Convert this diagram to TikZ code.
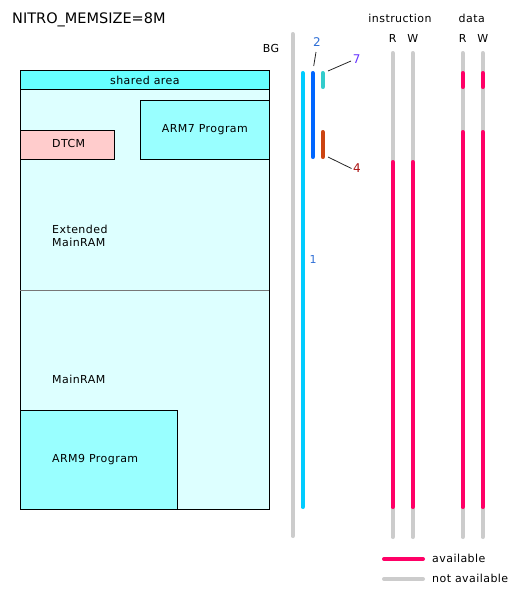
\documentclass[tikz,border=0pt]{standalone}
\usepackage{fontspec}
\setmainfont{DejaVu Sans}
\newfontfamily\spacedfont[LetterSpace=4]{DejaVu Sans}
\definecolor{mainfill}{HTML}{DDFFFF}
\definecolor{sharedfill}{HTML}{66FFFF}
\definecolor{progfill}{HTML}{99FFFF}
\definecolor{dtcmfill}{HTML}{FFCCCC}
\definecolor{na}{HTML}{CCCCCC}
\definecolor{av}{HTML}{FF0066}
\definecolor{cyanbar}{HTML}{00CCFF}
\definecolor{bluebar}{HTML}{0066FF}
\definecolor{tealbar}{HTML}{33CCCC}
\definecolor{orangebar}{HTML}{CC4411}
\definecolor{labblue}{HTML}{2F6FD6}
\definecolor{labpurple}{HTML}{6633FF}
\definecolor{labred}{HTML}{AA1111}
\definecolor{divgray}{HTML}{777777}
\begin{document}
\begin{tikzpicture}[x=1pt,y=-1pt,
  txt/.style={font=\spacedfont\fontsize{11}{13}\selectfont, inner sep=0pt},
  box/.style={draw=black, line width=0.8pt, anchor=north west, inner sep=0pt},
  bar/.style={line width=4pt, line cap=round},
  num/.style={font=\fontsize{12}{14}\selectfont, inner sep=0pt},
  lead/.style={draw=black!85, line width=0.8pt}]
\useasboundingbox (0,0) rectangle (520,600);

% title
\node[anchor=west, inner sep=0pt, font=\fontsize{14.5}{16}\selectfont] (title) at (12,20) {NITRO\_MEMSIZE=8M};
\node[txt] (bg) at (271,48) {BG};

% memory map
\node[box, fill=mainfill, minimum width=249, minimum height=439] (main) at (20,70) {};
\node[box, fill=sharedfill, minimum width=249, minimum height=19, font=\spacedfont\fontsize{11}{12}\selectfont] (shared) at (20,70) {shared area};
\node[box, fill=progfill, minimum width=129, minimum height=59, font=\spacedfont\fontsize{11}{12}\selectfont] (arm7) at (140,100) {ARM7 Program};
\node[box, fill=dtcmfill, minimum width=94, minimum height=29] (dtcm) at (20,130) {};
\node[txt, anchor=west] (dtcmt) at (52,143.5) {DTCM};
\coordinate (divL) at (20,290);
\coordinate (divR) at (269,290);
\draw[divgray, line width=1pt] (divL) -- (divR);
\node[txt, anchor=west, align=left] (ext) at (52,235.5) {Extended\\MainRAM};
\node[txt, anchor=west] (mainram) at (52,379.5) {MainRAM};
\node[box, fill=progfill, minimum width=157, minimum height=99] (arm9) at (20,410) {};
\node[txt, anchor=west] (arm9t) at (52,459.5) {ARM9 Program};

% BG bars
\coordinate (bgT) at (292.7,34); \coordinate (bgB) at (292.7,536);
\draw[bar, na] (bgT) -- (bgB);
\coordinate (b1T) at (302.7,73); \coordinate (b1B) at (302.7,507);
\draw[bar, cyanbar] (b1T) -- (b1B);
\coordinate (b2T) at (312.7,73); \coordinate (b2B) at (312.7,157);
\draw[bar, bluebar] (b2T) -- (b2B);
\coordinate (b7T) at (322.7,73); \coordinate (b7B) at (322.7,87);
\draw[bar, tealbar] (b7T) -- (b7B);
\coordinate (b4T) at (322.7,132); \coordinate (b4B) at (322.7,157);
\draw[bar, orangebar] (b4T) -- (b4B);

\node[num, labblue, font=\fontsize{11}{13}\selectfont] (l1) at (313,259) {1};
\node[num, labblue] (l2) at (317,42) {2};
\node[num, labpurple] (l7) at (356.7,59) {7};
\node[num, labred] (l4) at (357,168) {4};
\coordinate (c2a) at (316,52); \coordinate (c2b) at (313.7,66);
\draw[lead] (c2a) -- (c2b);
\coordinate (c7a) at (351,61); \coordinate (c7b) at (328,71);
\draw[lead] (c7a) -- (c7b);
\coordinate (c4a) at (328,157); \coordinate (c4b) at (351.5,168.5);
\draw[lead] (c4a) -- (c4b);

% access columns
\node[txt] (instr) at (400,18) {instruction};
\node[txt] (data) at (471.7,18) {data};
\node[txt] (iR) at (392.7,38) {R};
\node[txt] (iW) at (412.7,38) {W};
\node[txt] (dR) at (462.7,38) {R};
\node[txt] (dW) at (482.7,38) {W};

\foreach \x/\n in {392.7/iR, 412.7/iW, 462.7/dR, 482.7/dW}{
  \coordinate (\n T) at (\x,53); \coordinate (\n B) at (\x,537);
  \draw[bar, na] (\n T) -- (\n B);
}
\foreach \x/\n in {392.7/iR, 412.7/iW}{
  \coordinate (\n pT) at (\x,162); \coordinate (\n pB) at (\x,507);
  \draw[bar, av] (\n pT) -- (\n pB);
}
\foreach \x/\n in {462.7/dR, 482.7/dW}{
  \coordinate (\n aT) at (\x,73); \coordinate (\n aB) at (\x,87);
  \draw[bar, av] (\n aT) -- (\n aB);
  \coordinate (\n pT) at (\x,132); \coordinate (\n pB) at (\x,507);
  \draw[bar, av] (\n pT) -- (\n pB);
}

% legend
\coordinate (lgAa) at (384,559); \coordinate (lgAb) at (423,559);
\draw[bar, av] (lgAa) -- (lgAb);
\node[txt, anchor=west] (lgA) at (432,558) {available};
\coordinate (lgNa) at (384,579); \coordinate (lgNb) at (423,579);
\draw[bar, na] (lgNa) -- (lgNb);
\node[txt, anchor=west] (lgN) at (432,578) {not available};
\end{tikzpicture}
\end{document}
